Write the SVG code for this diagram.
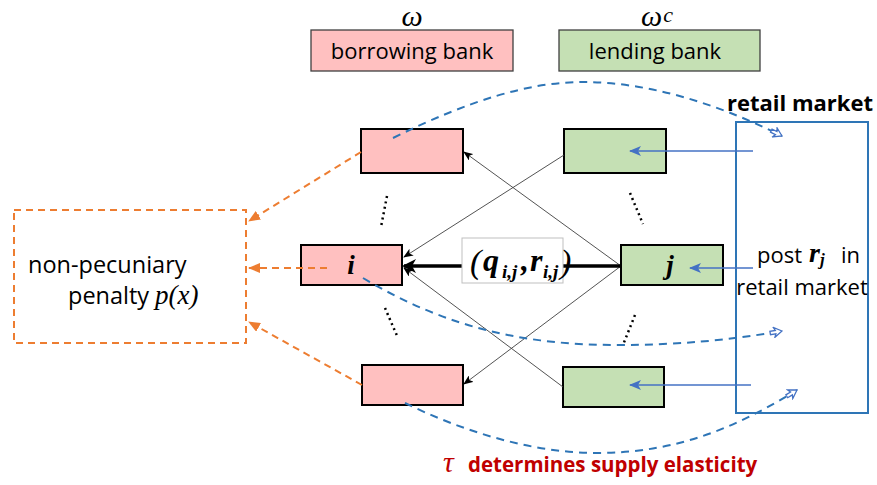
<svg xmlns="http://www.w3.org/2000/svg" width="877" height="485" viewBox="0 0 877 485">
  <style>
    .txt { font-family: "Open Sans", "Liberation Sans", sans-serif; fill: #000; }
    .math { font-family: "Liberation Serif", "DejaVu Serif", serif; font-style: italic; fill: #000; }
    .mb { font-family: "Liberation Serif", "DejaVu Serif", serif; font-style: italic; font-weight: bold; fill: #000; }
    .red { fill: #C00000; }
    .pink { fill: #FFC0C0; stroke: #000; stroke-width: 2; }
    .green { fill: #C5E0B4; stroke: #000; stroke-width: 2; }
    .hdr-pink { fill: #FFC0C0; stroke: #404040; stroke-width: 1.3; }
    .hdr-green { fill: #C5E0B4; stroke: #404040; stroke-width: 1.3; }
    .thin { stroke: #404040; stroke-width: 0.9; fill: none; }
    .thick { stroke: #000; stroke-width: 3.5; fill: none; }
    .post { stroke: #4472C4; stroke-width: 1.6; fill: none; }
    .pen { stroke: #ED7D31; stroke-width: 2; stroke-dasharray: 7 5; fill: none; }
    .flow { stroke: #2E75B6; stroke-width: 2; stroke-dasharray: 8 6; fill: none; }
    .dots { stroke: #000; stroke-width: 2.5; stroke-dasharray: 2 3.5; fill: none; }
  </style>
  <defs>
    <marker id="ah-thin" viewBox="0 0 10 8" refX="9" refY="4" markerWidth="10" markerHeight="8" markerUnits="userSpaceOnUse" orient="auto">
      <path d="M0,0 L10,4 L0,8 L2.5,4 Z" fill="#000"/>
    </marker>
    <marker id="ah-thick" viewBox="0 0 14 14" refX="12" refY="7" markerWidth="14" markerHeight="14" markerUnits="userSpaceOnUse" orient="auto">
      <path d="M0,0 L14,7 L0,14 L4,7 Z" fill="#000"/>
    </marker>
    <marker id="ah-post" viewBox="0 0 12 10" refX="11" refY="5" markerWidth="12" markerHeight="10" markerUnits="userSpaceOnUse" orient="auto">
      <path d="M0,0 L12,5 L0,10 L3,5 Z" fill="#4472C4"/>
    </marker>
    <marker id="ah-pen" viewBox="0 0 12 10" refX="11" refY="5" markerWidth="12" markerHeight="10" markerUnits="userSpaceOnUse" orient="auto">
      <path d="M0,0 L12,5 L0,10 Z" fill="#ED7D31"/>
    </marker>
    <marker id="ah-open" viewBox="-1 -1 14 12" refX="12" refY="5" markerWidth="14" markerHeight="12" markerUnits="userSpaceOnUse" orient="auto">
      <path d="M12,5 L4,0 L5.5,3.3 L0,3.3 L0,6.7 L5.5,6.7 L4,10 Z" fill="#fff" stroke="#4472C4" stroke-width="1.3"/>
    </marker>
  </defs>

  <!-- column headers -->
  <g id="hdr-borrowing">
    <text class="math" x="412" y="26" font-size="30" text-anchor="middle">ω</text>
    <rect class="hdr-pink" x="311" y="30" width="202" height="41"/>
    <text class="txt" x="412" y="59" font-size="22" text-anchor="middle">borrowing bank</text>
  </g>
  <g id="hdr-lending">
    <text class="math" x="641" y="26" font-size="30">ω<tspan font-size="22" dx="1" dy="-4">c</tspan></text>
    <rect class="hdr-green" x="559" y="30" width="201" height="41"/>
    <text class="txt" x="655" y="59" font-size="22" text-anchor="middle">lending bank</text>
  </g>

  <!-- retail market -->
  <g id="retail">
    <text class="txt" x="800" y="111" font-size="22" font-weight="bold" text-anchor="middle">retail market</text>
    <rect x="736" y="122" width="132" height="291" fill="none" stroke="#2E75B6" stroke-width="2"/>
    <text class="txt" x="757" y="263" font-size="22">post</text>
    <text class="mb" x="809" y="262" font-size="28">r<tspan font-size="17" dy="3">j</tspan></text>
    <text class="txt" x="841" y="263" font-size="22">in</text>
    <text class="txt" x="802" y="295" font-size="22" text-anchor="middle">retail market</text>
  </g>

  <!-- penalty box -->
  <g id="penalty">
    <rect class="pen" x="14" y="210" width="232" height="133"/>
    <text class="txt" x="28" y="273" font-size="23.5">non-pecuniary</text>
    <text class="txt" x="68" y="304" font-size="23.5">penalty</text>
    <text class="math" x="155" y="304" font-size="27">p(x)</text>
  </g>

  <!-- borrowing banks -->
  <g id="bank-b1"><rect class="pink" x="361" y="129" width="102" height="44"/></g>
  <g id="bank-i">
    <rect class="pink" x="301" y="245" width="101" height="40"/>
    <text class="mb" x="351" y="274" font-size="27" text-anchor="middle">i</text>
  </g>
  <g id="bank-b3"><rect class="pink" x="362" y="365" width="101" height="40"/></g>

  <!-- lending banks -->
  <g id="bank-l1"><rect class="green" x="564" y="129" width="102" height="44"/></g>
  <g id="bank-j">
    <rect class="green" x="621" y="245" width="102" height="40"/>
    <text class="mb" x="670" y="274" font-size="27" text-anchor="middle">j</text>
  </g>
  <g id="bank-l3"><rect class="green" x="563" y="367" width="101" height="40"/></g>

  <!-- connectors -->
  <g id="connectors">
    <!-- interbank loans -->
    <line class="thin" x1="564" y1="155" x2="404" y2="257" marker-end="url(#ah-thin)"/>
    <line class="thin" x1="621" y1="266" x2="464" y2="152" marker-end="url(#ah-thin)"/>
    <line class="thin" x1="621" y1="266" x2="464" y2="384" marker-end="url(#ah-thin)"/>
    <line class="thin" x1="563" y1="387" x2="404" y2="268" marker-end="url(#ah-thin)"/>
    <line class="thick" x1="621" y1="266" x2="404" y2="266" marker-end="url(#ah-thick)"/>

    <!-- ellipsis dots -->
    <line class="dots" x1="387" y1="196" x2="381" y2="227"/>
    <line class="dots" x1="630" y1="193" x2="643" y2="224"/>
    <line class="dots" x1="385" y1="308" x2="398" y2="338"/>
    <line class="dots" x1="635" y1="315" x2="623" y2="345"/>

    <!-- posted rates -->
    <line class="post" x1="753" y1="151" x2="630" y2="151" marker-end="url(#ah-post)"/>
    <line class="post" x1="753" y1="268" x2="690" y2="268" marker-end="url(#ah-post)"/>
    <line class="post" x1="751" y1="385" x2="630" y2="385" marker-end="url(#ah-post)"/>

    <!-- penalties -->
    <line class="pen" x1="361" y1="152" x2="249" y2="221" marker-end="url(#ah-pen)"/>
    <line class="pen" x1="327" y1="268" x2="249" y2="268" marker-end="url(#ah-pen)"/>
    <line class="pen" x1="362" y1="385" x2="249" y2="322" marker-end="url(#ah-pen)"/>

    <!-- retail flows -->
    <path class="flow" d="M393,138 C470,100 530,82 583,82 C650,82 720,105 782,136" marker-end="url(#ah-open)"/>
    <path class="flow" d="M363,278 C450,330 530,345 617,345 C680,345 730,340 782,331" marker-end="url(#ah-open)"/>
    <path class="flow" d="M405,403 C460,430 530,453 597,453 C680,453 740,425 797,390" marker-end="url(#ah-open)"/>
  </g>

  <!-- loan terms label -->
  <g id="loan-label">
    <rect x="462" y="238" width="101" height="45" fill="#fff" stroke="#BFBFBF" stroke-width="1"/>
    <text class="mb" x="470" y="273" font-size="34"><tspan font-weight="normal">(</tspan><tspan x="483" dy="-2" font-size="32">q</tspan><tspan x="502" dy="7" font-size="19">i,j</tspan><tspan x="521" dy="-7" font-size="32">,</tspan><tspan x="530" font-size="32">r</tspan><tspan x="543" dy="7" font-size="19">i,j</tspan><tspan x="560" dy="-5" font-weight="normal">)</tspan></text>
  </g>

  <!-- caption -->
  <g id="caption">
    <text class="math red" x="443" y="472" font-size="30">τ</text>
    <text class="txt red" x="468" y="472" font-size="20.5" font-weight="bold">determines supply elasticity</text>
  </g>
</svg>
